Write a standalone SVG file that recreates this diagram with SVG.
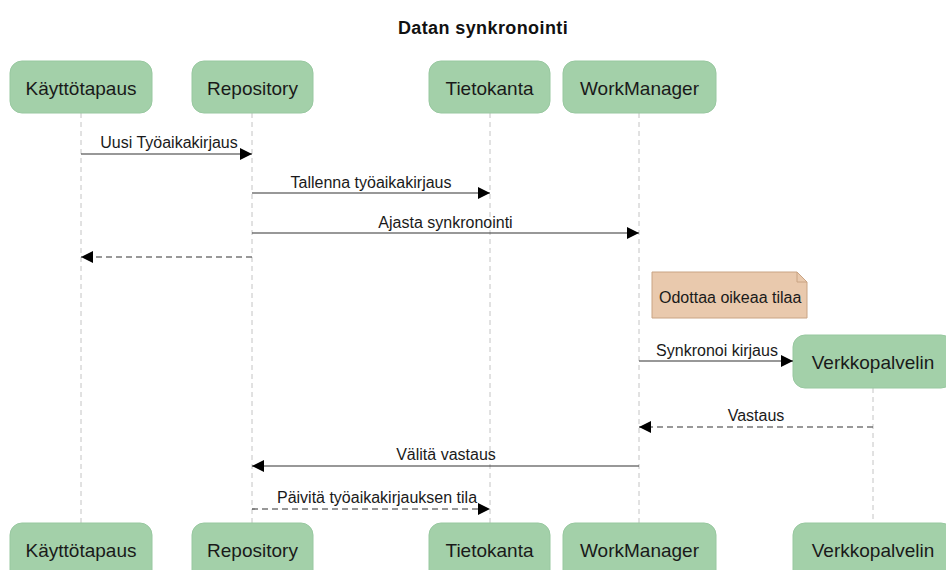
<svg xmlns="http://www.w3.org/2000/svg" width="946" height="570" viewBox="0 0 946 570">
<defs>
<style>
.actor rect{fill:#a3d0a9;stroke:#98c8a0;stroke-width:1}
.actor text{font-family:"Liberation Sans",Arial,sans-serif;font-size:19px;fill:#1a1a1a;text-anchor:middle}
.life{stroke:#c4c4c4;stroke-width:1;stroke-dasharray:5,4;fill:none}
.msg{stroke:#333;stroke-width:1.2;fill:none}
.dash{stroke-dasharray:6,4}
.lbl{font-family:"Liberation Sans",Arial,sans-serif;font-size:16px;fill:#1a1a1a;text-anchor:middle}
.title{font-family:"Liberation Sans",Arial,sans-serif;font-size:18px;font-weight:bold;fill:#111;text-anchor:middle;letter-spacing:0.4px}
</style>
<marker id="ah" viewBox="0 0 12 12" refX="12" refY="6" markerWidth="12" markerHeight="12" markerUnits="userSpaceOnUse" orient="auto">
<path d="M0,0 L12,6 L0,12 Z" fill="#000"/>
</marker>
</defs>
<rect width="946" height="570" fill="#fff"/>
<text class="title" x="483" y="34">Datan synkronointi</text>

<g id="lifelines">
<line class="life" x1="81" y1="113" x2="81" y2="523"/>
<line class="life" x1="252" y1="113" x2="252" y2="523"/>
<line class="life" x1="490" y1="113" x2="490" y2="523"/>
<line class="life" x1="639" y1="113" x2="639" y2="523"/>
<line class="life" x1="873" y1="388" x2="873" y2="523"/>
</g>

<g id="kayttotapaus" class="actor">
<rect x="10" y="61" width="142" height="52" rx="12"/>
<text x="81" y="95">Käyttötapaus</text>
<rect x="10" y="523" width="142" height="60" rx="12"/>
<text x="81" y="557">Käyttötapaus</text>
</g>
<g id="repository" class="actor">
<rect x="192" y="61" width="121" height="52" rx="12"/>
<text x="252.5" y="95">Repository</text>
<rect x="192" y="523" width="121" height="60" rx="12"/>
<text x="252.5" y="557">Repository</text>
</g>
<g id="tietokanta" class="actor">
<rect x="429" y="61" width="121" height="52" rx="12"/>
<text x="489.5" y="95">Tietokanta</text>
<rect x="429" y="523" width="121" height="60" rx="12"/>
<text x="489.5" y="557">Tietokanta</text>
</g>
<g id="workmanager" class="actor">
<rect x="563" y="61" width="153" height="52" rx="12"/>
<text x="639.5" y="95">WorkManager</text>
<rect x="563" y="523" width="153" height="60" rx="12"/>
<text x="639.5" y="557">WorkManager</text>
</g>
<g id="verkkopalvelin" class="actor">
<rect x="793" y="335" width="160" height="53" rx="12"/>
<text x="873" y="369">Verkkopalvelin</text>
<rect x="793" y="523" width="160" height="60" rx="12"/>
<text x="873" y="557">Verkkopalvelin</text>
</g>

<g id="note">
<path d="M652,272 L797,272 L807,282 L807,318 L652,318 Z" fill="#e9c9ad" stroke="#c9a484" stroke-width="1"/>
<path d="M797,272 L797,282 L807,282" fill="none" stroke="#c9a484" stroke-width="1"/>
<text class="lbl" x="659" y="303" style="text-anchor:start">Odottaa oikeaa tilaa</text>
</g>

<g id="connectors">
<line class="msg" x1="81" y1="154" x2="252" y2="154" marker-end="url(#ah)"/>
<text class="lbl" x="169" y="148">Uusi Työaikakirjaus</text>
<line class="msg" x1="252" y1="193" x2="490" y2="193" marker-end="url(#ah)"/>
<text class="lbl" x="371" y="188">Tallenna työaikakirjaus</text>
<line class="msg" x1="252" y1="233" x2="639" y2="233" marker-end="url(#ah)"/>
<text class="lbl" x="445.5" y="228">Ajasta synkronointi</text>
<line class="msg dash" x1="252" y1="257" x2="81" y2="257" marker-end="url(#ah)"/>
<line class="msg" x1="639" y1="361" x2="793" y2="361" marker-end="url(#ah)"/>
<text class="lbl" x="717" y="356">Synkronoi kirjaus</text>
<line class="msg dash" x1="873" y1="427" x2="639" y2="427" marker-end="url(#ah)"/>
<text class="lbl" x="756" y="421">Vastaus</text>
<line class="msg" x1="639" y1="466" x2="252" y2="466" marker-end="url(#ah)"/>
<text class="lbl" x="446" y="460">Välitä vastaus</text>
<line class="msg dash" x1="252" y1="509" x2="490" y2="509" marker-end="url(#ah)"/>
<text class="lbl" x="377" y="503">Päivitä työaikakirjauksen tila</text>
</g>
</svg>
